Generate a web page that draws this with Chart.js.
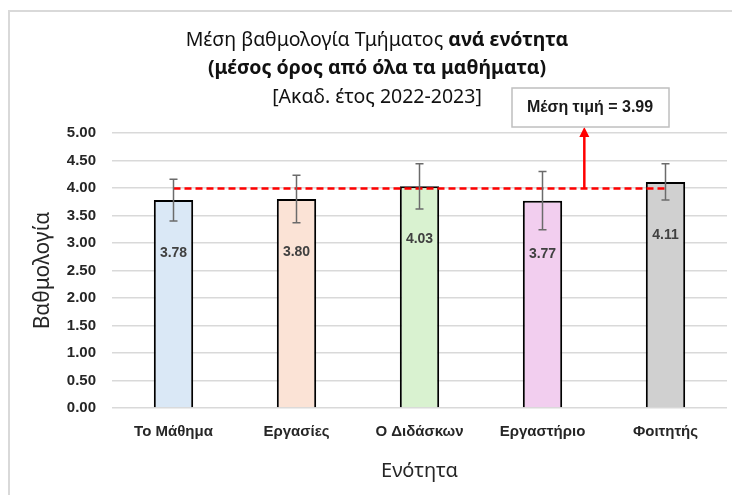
<!DOCTYPE html>
<html>
<head>
<meta charset="utf-8">
<script src="https://cdn.jsdelivr.net/npm/chart.js@4.4.1/dist/chart.umd.min.js"></script>
<style>
  body { margin: 0; background: #fff; }
  #wrap { width: 732px; height: 495px; }
</style>
</head>
<body>
<div id="wrap"><canvas id="grafico" width="732" height="495"></canvas></div>
<script>
// dados
const categorias = ['Το Μάθημα', 'Εργασίες', 'Ο Διδάσκων', 'Εργαστήριο', 'Φοιτητής'];
const medias = [3.78, 3.80, 4.03, 3.77, 4.11];
const erros = [0.38, 0.43, 0.41, 0.53, 0.33];
const mediaGeral = [3.99, 3.99, 3.99, 3.99, 3.99];
const textoMedia = 'Μέση τιμή = 3.99';
const coresBarras = ['#dae8f6', '#fbe3d6', '#d9f2d0', '#f2ceef', '#d0d0d0'];

const fonteTicks = "'Liberation Sans', Arial, sans-serif";
const fonteTitulo = "'Noto Sans', sans-serif";

const pluginExtras = {
	id: 'extras',
	beforeDraw(chart) {
		const ctx = chart.ctx;
		ctx.save();
		ctx.fillStyle = '#fff';
		ctx.fillRect(0, 0, chart.width, chart.height);
		// moldura
		ctx.strokeStyle = '#d9d9d9';
		ctx.lineWidth = 2;
		ctx.beginPath();
		ctx.moveTo(9, chart.height + 2);
		ctx.lineTo(9, 11);
		ctx.lineTo(chart.width + 2, 11);
		ctx.stroke();
		ctx.restore();
	},
	afterDatasetsDraw(chart) {
		const ctx = chart.ctx;
		const x = chart.scales.x;
		const y = chart.scales.y;
		ctx.save();

		// barras de erro
		ctx.strokeStyle = '#6b6b6b';
		ctx.lineWidth = 1.5;
		medias.forEach((v, i) => {
			const px = x.getPixelForValue(i);
			const top = y.getPixelForValue(v + erros[i]);
			const bot = y.getPixelForValue(v - erros[i]);
			ctx.beginPath();
			ctx.moveTo(px, top); ctx.lineTo(px, bot);
			ctx.moveTo(px - 4, top); ctx.lineTo(px + 4, top);
			ctx.moveTo(px - 4, bot); ctx.lineTo(px + 4, bot);
			ctx.stroke();
		});

		// rótulos
		ctx.fillStyle = '#404040';
		ctx.font = 'bold 14px ' + fonteTicks;
		ctx.textAlign = 'center';
		ctx.textBaseline = 'middle';
		medias.forEach((v, i) => {
			ctx.fillText(v.toFixed(2), x.getPixelForValue(i), y.getPixelForValue(v) + 53);
		});

		// seta até a caixa
		const ax = x.getPixelForValue(3.34);
		const ay = y.getPixelForValue(mediaGeral[0]);
		const boxBottom = 127;
		ctx.strokeStyle = '#ff0000';
		ctx.fillStyle = '#ff0000';
		ctx.lineWidth = 2.5;
		ctx.beginPath();
		ctx.moveTo(ax, ay);
		ctx.lineTo(ax, boxBottom + 7);
		ctx.stroke();
		ctx.beginPath();
		ctx.moveTo(ax, boxBottom);
		ctx.lineTo(ax - 5, boxBottom + 10);
		ctx.lineTo(ax + 5, boxBottom + 10);
		ctx.closePath();
		ctx.fill();

		// caixa
		ctx.fillStyle = '#fff';
		ctx.fillRect(512, 88, 157, 39);
		ctx.strokeStyle = '#bfbfbf';
		ctx.lineWidth = 1.5;
		ctx.strokeRect(512, 88, 157, 39);
		ctx.fillStyle = '#1a1a1a';
		ctx.font = 'bold 16px ' + fonteTicks;
		ctx.fillText(textoMedia, 590, 108);

		// título
		ctx.fillStyle = '#111';
		ctx.textBaseline = 'middle';
		const cx = 377;
		const p1 = 'Μέση βαθμολογία Τμήματος ';
		const p2 = 'ανά ενότητα';
		ctx.font = '19.5px ' + fonteTitulo;
		const w1 = ctx.measureText(p1).width;
		ctx.font = 'bold 19.5px ' + fonteTitulo;
		const w2 = ctx.measureText(p2).width;
		const sx = cx - (w1 + w2) / 2;
		ctx.textAlign = 'left';
		ctx.font = '19.5px ' + fonteTitulo;
		ctx.fillText(p1, sx, 40);
		ctx.font = 'bold 19.5px ' + fonteTitulo;
		ctx.fillText(p2, sx + w1, 40);
		ctx.textAlign = 'center';
		ctx.fillText('(μέσος όρος από όλα τα μαθήματα)', cx, 68);
		ctx.font = '19.5px ' + fonteTitulo;
		ctx.fillText('[Ακαδ. έτος 2022-2023]', cx, 97);

		ctx.restore();
	}
};

const grafico = new Chart(document.getElementById('grafico'), {
	data: {
		labels: categorias,
		datasets: [{
			type: 'line',
			data: mediaGeral,
			borderColor: '#ff0000',
			borderWidth: 2.5,
			borderDash: [7, 4],
			pointRadius: 0,
			order: 0
		}, {
			type: 'bar',
			data: medias,
			backgroundColor: coresBarras,
			borderColor: '#000',
			borderWidth: 2,
			categoryPercentage: 1,
			barPercentage: 0.32,
			order: 1
		}]
	},
	options: {
		responsive: false,
		animation: false,
		layout: { padding: { top: 133, left: 9, right: 5, bottom: 12 } },
		plugins: {
			legend: { display: false },
			tooltip: { enabled: false },
			title: { display: false }
		},
		scales: {
			x: {
				grid: { display: false, drawTicks: false },
				border: { display: false },
				ticks: {
					color: '#262626',
					font: { family: fonteTicks, size: 15, weight: 'bold' },
					padding: 15,
					maxRotation: 0
				},
				title: {
					display: true,
					text: 'Ενότητα',
					color: '#262626',
					font: { family: fonteTitulo, size: 20 },
					padding: { top: 12, bottom: 0 }
				},
				afterFit(s) { s.height = 75; }
			},
			y: {
				min: 0,
				max: 5,
				grid: { color: '#d9d9d9', lineWidth: 1.5, drawTicks: false },
				border: { display: false },
				ticks: {
					stepSize: 0.5,
					color: '#262626',
					font: { family: fonteTicks, size: 15, weight: 'bold' },
					padding: 16,
					callback: v => v.toFixed(2)
				},
				title: {
					display: true,
					text: 'Βαθμολογία',
					color: '#262626',
					font: { family: fonteTitulo, size: 21 },
					padding: { top: 21, bottom: 0 }
				},
				afterFit(s) { s.width = 103; }
			}
		}
	},
	plugins: [pluginExtras]
});
</script>
</body>
</html>
